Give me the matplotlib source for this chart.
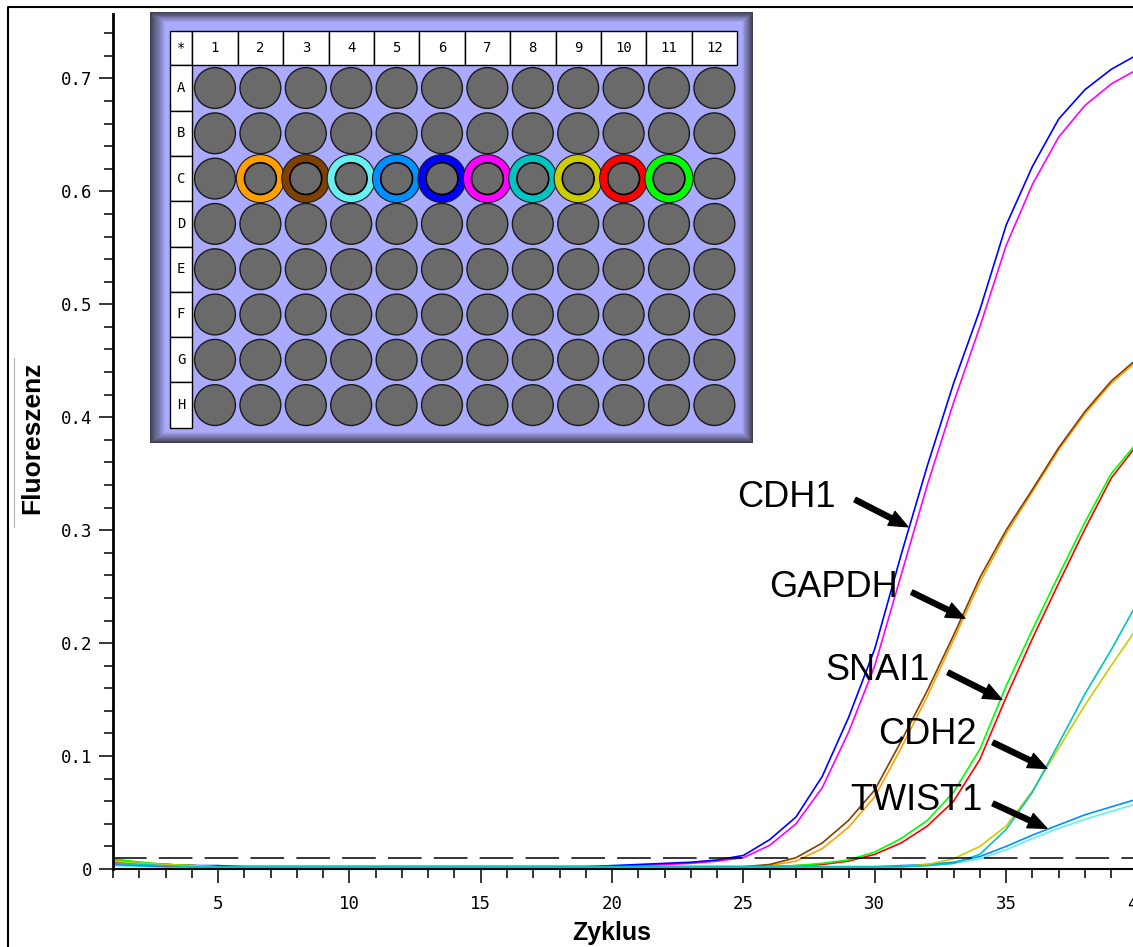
import matplotlib.pyplot as plt
import numpy as np
from matplotlib.patches import Circle, Rectangle
from matplotlib.lines import Line2D
from matplotlib.ticker import MultipleLocator, FixedLocator, FuncFormatter

# ---------------------------------------------------------------------------
# qPCR amplification data (fluorescence per cycle), two replicates per gene
# ---------------------------------------------------------------------------
cycles = list(range(1, 41))

cdh1_a = [0.006, 0.005, 0.004, 0.003, 0.003, 0.002, 0.002, 0.002, 0.002, 0.002,
          0.002, 0.002, 0.002, 0.002, 0.002, 0.002, 0.002, 0.002, 0.002, 0.003,
          0.004, 0.005, 0.006, 0.008, 0.012, 0.026, 0.046, 0.082, 0.134, 0.195,
          0.278, 0.357, 0.430, 0.495, 0.570, 0.622, 0.664, 0.690, 0.708, 0.721]
cdh1_b = [0.005, 0.004, 0.003, 0.003, 0.002, 0.002, 0.002, 0.002, 0.002, 0.002,
          0.002, 0.002, 0.002, 0.002, 0.002, 0.002, 0.002, 0.002, 0.002, 0.002,
          0.003, 0.004, 0.005, 0.007, 0.010, 0.021, 0.040, 0.072, 0.121, 0.180,
          0.260, 0.340, 0.413, 0.480, 0.552, 0.606, 0.648, 0.676, 0.695, 0.708]
gapdh_a = [0.007, 0.005, 0.004, 0.003, 0.002, 0.002, 0.002, 0.002, 0.002, 0.002,
           0.002, 0.002, 0.002, 0.002, 0.002, 0.002, 0.002, 0.002, 0.002, 0.002,
           0.002, 0.002, 0.002, 0.002, 0.002, 0.004, 0.010, 0.023, 0.043, 0.070,
           0.113, 0.158, 0.207, 0.258, 0.300, 0.336, 0.373, 0.405, 0.432, 0.452]
gapdh_b = [0.008, 0.006, 0.004, 0.003, 0.002, 0.002, 0.002, 0.002, 0.002, 0.002,
           0.002, 0.002, 0.002, 0.002, 0.002, 0.002, 0.002, 0.002, 0.002, 0.002,
           0.002, 0.002, 0.002, 0.002, 0.002, 0.003, 0.007, 0.018, 0.037, 0.064,
           0.107, 0.153, 0.203, 0.254, 0.297, 0.334, 0.371, 0.403, 0.430, 0.450]
snai1_a = [0.009, 0.006, 0.004, 0.003, 0.002, 0.002, 0.002, 0.002, 0.002, 0.002,
           0.002, 0.002, 0.002, 0.002, 0.002, 0.002, 0.002, 0.002, 0.002, 0.002,
           0.002, 0.002, 0.002, 0.002, 0.002, 0.002, 0.003, 0.005, 0.008, 0.015,
           0.027, 0.043, 0.068, 0.106, 0.162, 0.212, 0.260, 0.307, 0.350, 0.378]
snai1_b = [0.006, 0.004, 0.003, 0.003, 0.002, 0.002, 0.002, 0.002, 0.002, 0.002,
           0.002, 0.002, 0.002, 0.002, 0.002, 0.002, 0.002, 0.002, 0.002, 0.002,
           0.002, 0.002, 0.002, 0.002, 0.002, 0.002, 0.003, 0.004, 0.007, 0.013,
           0.023, 0.038, 0.060, 0.097, 0.152, 0.204, 0.253, 0.301, 0.346, 0.376]
cdh2_a = [0.005, 0.004, 0.003, 0.002, 0.002, 0.002, 0.002, 0.002, 0.002, 0.002,
          0.002, 0.002, 0.002, 0.002, 0.002, 0.002, 0.002, 0.002, 0.002, 0.002,
          0.002, 0.002, 0.002, 0.002, 0.002, 0.002, 0.002, 0.002, 0.002, 0.002,
          0.002, 0.003, 0.005, 0.013, 0.035, 0.068, 0.111, 0.155, 0.194, 0.236]
cdh2_b = [0.007, 0.005, 0.004, 0.003, 0.002, 0.002, 0.002, 0.002, 0.002, 0.002,
          0.002, 0.002, 0.002, 0.002, 0.002, 0.002, 0.002, 0.002, 0.002, 0.002,
          0.002, 0.002, 0.002, 0.002, 0.002, 0.002, 0.002, 0.002, 0.002, 0.002,
          0.002, 0.004, 0.009, 0.020, 0.038, 0.069, 0.107, 0.145, 0.180, 0.214]
twist1_a = [0.004, 0.003, 0.002, 0.002, 0.002, 0.002, 0.002, 0.002, 0.002, 0.002,
            0.002, 0.002, 0.002, 0.002, 0.002, 0.002, 0.002, 0.002, 0.002, 0.002,
            0.002, 0.002, 0.002, 0.002, 0.002, 0.002, 0.002, 0.002, 0.002, 0.002,
            0.003, 0.004, 0.006, 0.011, 0.020, 0.030, 0.039, 0.048, 0.055, 0.062]
twist1_b = [0.003, 0.002, 0.002, 0.002, 0.002, 0.002, 0.002, 0.002, 0.002, 0.002,
            0.002, 0.002, 0.002, 0.002, 0.002, 0.002, 0.002, 0.002, 0.002, 0.002,
            0.002, 0.002, 0.002, 0.002, 0.002, 0.002, 0.002, 0.002, 0.002, 0.002,
            0.002, 0.003, 0.005, 0.009, 0.017, 0.027, 0.036, 0.044, 0.051, 0.058]

threshold = 0.0097

# wells C2..C11 in plate order, with the curve drawn for each
well_cols = [2, 3, 4, 5, 6, 7, 8, 9, 10, 11]
well_colors = ['#ffa000', '#804000', '#66f0f0', '#0090ff', '#0000ff',
               '#ff00ff', '#00c4c4', '#cccc00', '#ff0000', '#00ff00']
well_curves = [gapdh_b, gapdh_a, twist1_b, twist1_a, cdh1_a,
               cdh1_b, cdh2_a, cdh2_b, snai1_b, snai1_a]
draw_order = [0, 1, 2, 3, 5, 4, 8, 9, 7, 6]

# gene labels: text position, arrow tail, arrow tip (cycle, fluorescence)
genes = ['CDH1', 'GAPDH', 'SNAI1', 'CDH2', 'TWIST1']
label_pos = [(26.62, 0.329), (28.41, 0.249), (30.12, 0.176), (31.99, 0.119), (31.60, 0.061)]
arrow_tail = [(29.25, 0.327), (31.41, 0.245), (32.79, 0.174), (34.50, 0.112), (34.50, 0.058)]
arrow_tip = [(31.26, 0.303), (33.43, 0.222), (34.84, 0.150), (36.55, 0.089), (36.55, 0.036)]

plate_rows = list('ABCDEFGH')
plate_cols = list(range(1, 13))

# ---------------------------------------------------------------------------
W, H = 1133, 947
fig = plt.figure(figsize=(W / 100, H / 100), dpi=100)
plt.rcParams['font.family'] = ['Liberation Sans', 'DejaVu Sans']
mono = 'DejaVu Sans Mono'

ax = fig.add_axes([113 / W, 1 - 869 / H, (W - 113) / W, (869 - 14) / H])
ax.set_xlim(1, 39.83)
ax.set_ylim(0, 0.757)

for i in draw_order:
    ax.plot(cycles, well_curves[i], color=well_colors[i], lw=1.2, zorder=2)

ax.axhline(threshold, color='black', lw=1.1, ls=(0, (22, 8)), zorder=3)

for sp in ['top', 'right']:
    ax.spines[sp].set_visible(False)
ax.spines['left'].set_linewidth(2.0)
ax.spines['bottom'].set_linewidth(1.5)

ax.yaxis.set_major_locator(FixedLocator([0, 0.1, 0.2, 0.3, 0.4, 0.5, 0.6, 0.7]))
ax.yaxis.set_minor_locator(MultipleLocator(0.02))
ax.yaxis.set_major_formatter(FuncFormatter(lambda v, p: '0' if v == 0 else f'{v:.1f}'))
ax.xaxis.set_major_locator(MultipleLocator(5))
ax.xaxis.set_minor_locator(MultipleLocator(1))
ax.tick_params(which='major', length=10, width=1.1, direction='out')
ax.tick_params(which='minor', length=6.5, width=1.1, direction='out')
ax.tick_params(axis='y', which='major', pad=5)
ax.tick_params(axis='x', which='major', pad=9)
for lab in ax.get_xticklabels() + ax.get_yticklabels():
    lab.set_fontfamily(mono)
    lab.set_fontsize(12.5)

# last cycle label sits just past the right edge of the axis
ax.annotate('40', xy=(40, 0), xycoords=('data', 'axes fraction'),
            xytext=(0, -19), textcoords='offset points', ha='center', va='top',
            family=mono, fontsize=12.5, annotation_clip=False)

# gene labels with arrows
for name, pos, tail, tip in zip(genes, label_pos, arrow_tail, arrow_tip):
    ax.text(pos[0], pos[1], name, fontsize=26, ha='center', va='center', zorder=5)
    ax.annotate('', xy=tip, xytext=tail,
                arrowprops=dict(arrowstyle='simple,head_width=0.8,head_length=0.95,tail_width=0.26',
                                mutation_scale=14, color='black', shrinkA=0, shrinkB=0),
                zorder=5)

fig.text(32 / W, 1 - 438 / H, 'Fluoreszenz', rotation=90, fontsize=19,
         fontweight='bold', ha='center', va='center')
fig.text(612 / W, 1 - 933 / H, 'Zyklus', fontsize=18, fontweight='bold',
         ha='center', va='center')

# frame lines around the picture
fig.add_artist(Line2D([8 / W, 8 / W, 1.01], [0, 1 - 7 / H, 1 - 7 / H], color='black', lw=1.5))
fig.add_artist(Line2D([14 / W, 14 / W], [1 - 358 / H, 1 - 527 / H], color='#b0b0b0', lw=0.8))

# ---------------------------------------------------------------------------
# 96-well plate inset
# ---------------------------------------------------------------------------
px = 45.4
x0, x1 = 1 + (150 - 215) / px, 1 + (753 - 215) / px
y0, y1 = (12 - 88) / 45.3, (443 - 88) / 45.3
pl = fig.add_axes([150 / W, 1 - 443 / H, 603 / W, 431 / H])
pl.set_xlim(x0, x1)
pl.set_ylim(y1, y0)
pl.axis('off')

lav = np.array([0.667, 0.667, 1.0])
dark = np.array([0.25, 0.25, 0.31])
ix0, ix1, iy0, iy1 = -0.10, 12.61, -1.457, 7.594
nsteps = 14
for k in range(nsteps + 1):
    t = k / nsteps
    col = dark * (1 - t) + lav * t
    a0 = x0 + (ix0 - x0) * t
    a1 = x1 + (ix1 - x1) * t
    b0 = y0 + (iy0 - y0) * t
    b1 = y1 + (iy1 - y1) * t
    pl.add_patch(Rectangle((a0, b0), a1 - a0, b1 - b0, facecolor=col, edgecolor='none'))

# header cells
pl.add_patch(Rectangle((0, -1.25), 0.5, 0.75, facecolor='white', edgecolor='black', lw=1))
pl.text(0.25, -0.875, '*', ha='center', va='center', fontsize=10, family=mono)
for c in plate_cols:
    pl.add_patch(Rectangle((c - 0.5, -1.25), 1, 0.75, facecolor='white', edgecolor='black', lw=1))
    pl.text(c, -0.875, str(c), ha='center', va='center', fontsize=10, family=mono)
for r, name in enumerate(plate_rows):
    pl.add_patch(Rectangle((0, r - 0.5), 0.5, 1, facecolor='white', edgecolor='black', lw=1))
    pl.text(0.25, r, name, ha='center', va='center', fontsize=10, family=mono)

# wells
for r, name in enumerate(plate_rows):
    for c in plate_cols:
        if name == 'C' and c in well_cols:
            continue
        pl.add_patch(Circle((c, r), 0.45, facecolor='#6a6a6a', edgecolor='#1a1a1a', lw=1))
for c, col in zip(well_cols, well_colors):
    pl.add_patch(Circle((c, 2), 0.53, facecolor=col, edgecolor='#1a1a1a', lw=0.8))
    pl.add_patch(Circle((c, 2), 0.35, facecolor='#6a6a6a', edgecolor='black', lw=1.2))

fig.savefig('out.png', dpi=100, facecolor='white')
